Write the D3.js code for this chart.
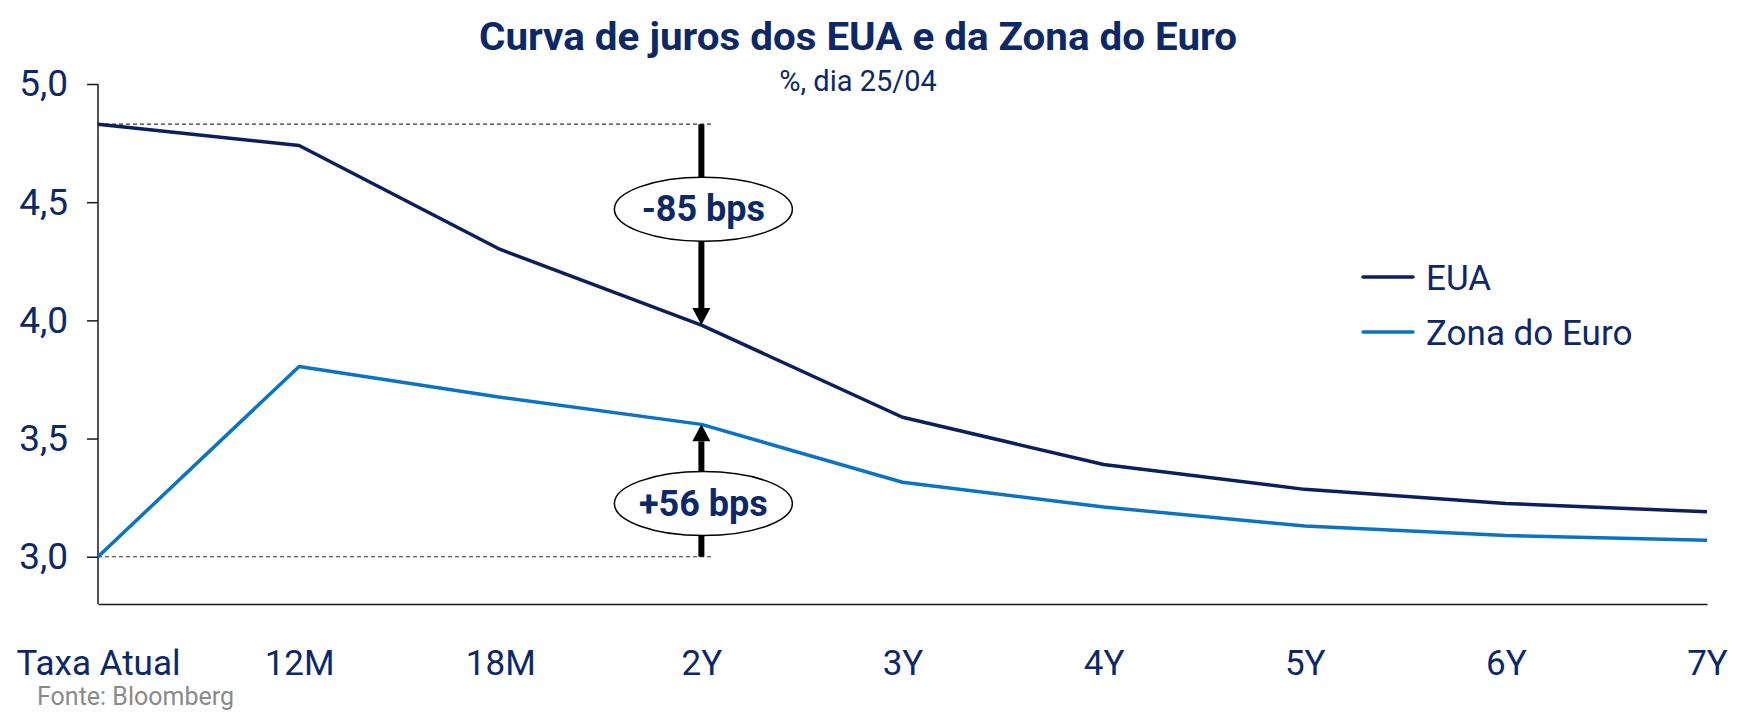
<html>
<head>
<script src="https://d3js.org/d3.v7.min.js"></script>
<style>
    body { margin: 0; background: #fff; }
    .chart text { font-family: Roboto, 'Noto Sans', sans-serif; fill: #0c2866; }
    .axis path, .axis line { stroke: #1a1a1a; stroke-width: 1.5; }
</style>
</head>
<body>
<svg class="chart" width="1746" height="714"></svg>
<script>
    // chart data
    let categories = ['Taxa Atual', '12M', '18M', '2Y', '3Y', '4Y', '5Y', '6Y', '7Y']
    let eua = [4.83, 4.74, 4.30, 3.98, 3.59, 3.39, 3.285, 3.225, 3.19]
    let euro = [3.00, 3.805, 3.675, 3.56, 3.315, 3.21, 3.13, 3.09, 3.07]
    let yTicks = [3.0, 3.5, 4.0, 4.5, 5.0]
    let seriesNames = ['EUA', 'Zona do Euro']
    let seriesColors = ['#0a1f5c', '#0b73c4']
    let annotations = [
        {cat: '2Y', from: eua[0], to: eua[3], label: '-85 bps', labelValue: 4.47},
        {cat: '2Y', from: euro[0], to: euro[3], label: '+56 bps', labelValue: 3.225}
    ]

    let svg = d3.select('svg'),
        margin = {left: 98, right: 39, top: 84, bottom: 110},
        width = +svg.attr('width') - margin.left - margin.right,
        height = +svg.attr('height') - margin.top - margin.bottom

    let x = d3.scalePoint().domain(categories).range([margin.left, margin.left + width])
    let y = d3.scaleLinear().domain([2.8, 5.0]).range([margin.top + height, margin.top])

    // title
    svg.append('text')
        .attr('x', 858).attr('y', 50)
        .attr('text-anchor', 'middle')
        .style('font-size', '38px').style('font-weight', 'bold')
        .attr('textLength', 758).attr('lengthAdjust', 'spacingAndGlyphs')
        .text('Curva de juros dos EUA e da Zona do Euro')
    svg.append('text')
        .attr('x', 858).attr('y', 91)
        .attr('text-anchor', 'middle')
        .style('font-size', '29px')
        .text('%, dia 25/04')

    // axes
    let yAxis = svg.append('g').attr('class', 'axis')
        .attr('transform', 'translate(' + margin.left + ',0)')
        .call(d3.axisLeft(y).tickValues(yTicks).tickSize(11).tickSizeOuter(0)
            .tickFormat(d => d3.format('.1f')(d).replace('.', ',')))
    yAxis.select('.domain').attr('d', 'M0,' + (margin.top) + 'V' + (margin.top + height))
    yAxis.selectAll('text').attr('x', -30).style('font-size', '37px').attr('fill', '#0c2866')

    let xAxis = svg.append('g').attr('class', 'axis')
        .attr('transform', 'translate(0,' + (margin.top + height) + ')')
        .call(d3.axisBottom(x).tickSize(0).tickSizeOuter(0))
    xAxis.select('.domain').attr('stroke-width', 1.2)
    xAxis.selectAll('text').attr('y', 46).style('font-size', '35px').attr('fill', '#0c2866')

    // dashed reference lines
    annotations.forEach(a => {
        svg.append('line')
            .attr('x1', x(categories[0])).attr('x2', x(a.cat) + 11)
            .attr('y1', y(a.from)).attr('y2', y(a.from))
            .attr('stroke', '#333').attr('stroke-width', 1.2)
            .attr('stroke-dasharray', '4,3')
    })

    // series lines
    let line = d3.line().x((d, i) => x(categories[i])).y(d => y(d))
    ;[eua, euro].forEach((s, i) => {
        svg.append('path')
            .datum(s)
            .attr('fill', 'none')
            .attr('stroke', seriesColors[i])
            .attr('stroke-width', 3.5)
            .attr('stroke-linejoin', 'round')
            .attr('d', line)
    })

    // arrows and bubbles
    annotations.forEach(a => {
        let cx = x(a.cat), y0 = y(a.from), y1 = y(a.to)
        let dir = y1 > y0 ? 1 : -1
        let headLen = 17
        svg.append('line')
            .attr('x1', cx).attr('x2', cx)
            .attr('y1', y0).attr('y2', y1 - dir * headLen)
            .attr('stroke', '#000').attr('stroke-width', 6)
        svg.append('path')
            .attr('d', 'M' + (cx - 9) + ',' + (y1 - dir * headLen) + 'L' + (cx + 9) + ',' + (y1 - dir * headLen) + 'L' + cx + ',' + y1 + 'Z')
            .attr('fill', '#000')
        let ly = y(a.labelValue)
        svg.append('ellipse')
            .attr('cx', cx + 2).attr('cy', ly)
            .attr('rx', 89).attr('ry', 32)
            .attr('fill', '#fff').attr('stroke', '#000').attr('stroke-width', 1.5)
        svg.append('text')
            .attr('x', cx + 2).attr('y', ly + 12)
            .attr('text-anchor', 'middle')
            .style('font-size', '36px').style('font-weight', 'bold')
            .text(a.label)
    })

    // legend
    let legend = svg.append('g').attr('transform', 'translate(1363,277)')
    seriesNames.forEach((n, i) => {
        legend.append('line')
            .attr('x1', 0).attr('x2', 50)
            .attr('y1', i * 55).attr('y2', i * 55)
            .attr('stroke', seriesColors[i]).attr('stroke-width', 3.5)
            .attr('stroke-linecap', 'round')
        legend.append('text')
            .attr('x', 63).attr('y', i * 55 + 13)
            .style('font-size', '35px')
            .text(n)
    })

    // source
    svg.append('text')
        .attr('x', 37).attr('y', 705)
        .style('font-size', '25px')
        .style('fill', '#8a8a8a')
        .text('Fonte: Bloomberg')
</script>
</body>
</html>
